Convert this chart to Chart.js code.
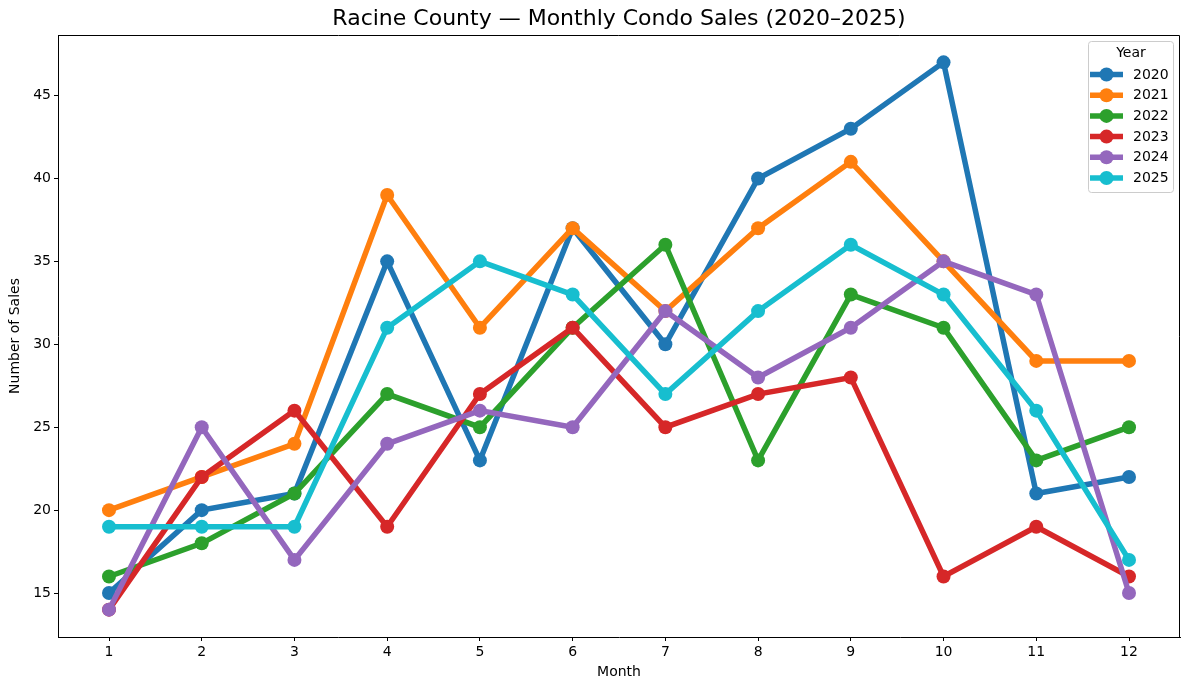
<!DOCTYPE html>
<html>
<head>
<meta charset="utf-8">
<script src="https://cdn.jsdelivr.net/npm/chart.js@4/dist/chart.umd.min.js"></script>
<style>
  html, body { margin: 0; padding: 0; background: #fff; }
  #wrap { width: 1189px; height: 690px; position: relative; }
</style>
</head>
<body>
<div id="wrap"><canvas id="chart"></canvas></div>
<script>
const months = [1, 2, 3, 4, 5, 6, 7, 8, 9, 10, 11, 12];
const years = ["2020", "2021", "2022", "2023", "2024", "2025"];
const colors = ["#1f77b4", "#ff7f0e", "#2ca02c", "#d62728", "#9467bd", "#17becf"];

const sales2020 = [15, 20, 21, 35, 23, 37, 30, 40, 43, 47, 21, 22];
const sales2021 = [20, 22, 24, 39, 31, 37, 32, 37, 41, 35, 29, 29];
const sales2022 = [16, 18, 21, 27, 25, 31, 36, 23, 33, 31, 23, 25];
const sales2023 = [14, 22, 26, 19, 27, 31, 25, 27, 28, 16, 19, 16];
const sales2024 = [14, 25, 17, 24, 26, 25, 32, 28, 31, 35, 33, 15];
const sales2025 = [19, 19, 19, 31, 35, 33, 27, 32, 36, 33, 26, 17];

const yTicks = [15, 20, 25, 30, 35, 40, 45];

const allSales = [sales2020, sales2021, sales2022, sales2023, sales2024, sales2025];
const FONT = "'DejaVu Sans', sans-serif";
const LINE_W = 5.5;

const datasets = allSales.map((vals, i) => ({
    label: years[i],
    data: vals.map((v, j) => ({ x: months[j], y: v })),
    borderColor: colors[i],
    backgroundColor: colors[i],
    borderWidth: LINE_W,
    pointRadius: 7,
    pointBorderWidth: 0,
    pointHoverRadius: 7,
    tension: 0,
    order: years.length - i  // later years drawn on top
}));

// top/right spines, title and legend drawn on the canvas
const extras = {
    id: "extras",
    afterDraw(chart) {
        const ctx = chart.ctx;
        const a = chart.chartArea;
        ctx.save();
        ctx.strokeStyle = "#000";
        ctx.lineWidth = 1;
        ctx.beginPath();
        ctx.moveTo(a.left, a.top + 0.5);
        ctx.lineTo(a.right - 0.5, a.top + 0.5);
        ctx.lineTo(a.right - 0.5, a.bottom);
        ctx.stroke();

        // title
        ctx.fillStyle = "#000";
        ctx.font = "22px " + FONT;
        ctx.textAlign = "center";
        ctx.textBaseline = "middle";
        ctx.fillText("Racine County \u2014 Monthly Condo Sales (2020\u20132025)", (a.left + a.right) / 2, 19);

        // legend
        const bx = 1088, by = 41, bw = 85, bh = 151;
        ctx.beginPath();
        ctx.roundRect(bx + 0.5, by + 0.5, bw, bh, 3);
        ctx.fillStyle = "rgba(255,255,255,0.8)";
        ctx.fill();
        ctx.strokeStyle = "#cccccc";
        ctx.stroke();

        ctx.fillStyle = "#000";
        ctx.font = "14px " + FONT;
        ctx.textAlign = "center";
        ctx.fillText("Year", bx + bw / 2 + 0.5, 53);

        ctx.textAlign = "left";
        years.forEach((y, i) => {
            const cy = 74.5 + i * 20.7;
            ctx.strokeStyle = colors[i];
            ctx.lineWidth = LINE_W;
            ctx.beginPath();
            ctx.moveTo(1090, cy);
            ctx.lineTo(1123, cy);
            ctx.stroke();
            ctx.fillStyle = colors[i];
            ctx.beginPath();
            ctx.arc(1106.5, cy, 7, 0, Math.PI * 2);
            ctx.fill();
            ctx.fillStyle = "#000";
            ctx.fillText(y, 1133, cy + 0.5);
        });
        ctx.restore();
    }
};

new Chart(document.getElementById("chart"), {
    type: "line",
    data: { datasets: datasets },
    options: {
        responsive: true,
        maintainAspectRatio: false,
        animation: false,
        layout: { padding: { left: 0, right: 9, top: 35, bottom: 0 } },
        plugins: {
            legend: { display: false },
            tooltip: { enabled: false },
            title: { display: false }
        },
        scales: {
            x: {
                type: "linear",
                min: 0.45,
                max: 12.55,
                afterFit: (s) => { s.height = 53; },
                afterBuildTicks: (s) => { s.ticks = months.map(m => ({ value: m })); },
                grid: { drawOnChartArea: false, drawTicks: true, tickLength: 4, color: "#000" },
                border: { display: true, color: "#000", width: 1 },
                ticks: { color: "#000", padding: 3, font: { family: FONT, size: 14 }, maxRotation: 0, autoSkip: false },
                title: { display: true, text: "Month", color: "#000", font: { family: FONT, size: 14 }, padding: { top: 0, bottom: 9 } }
            },
            y: {
                type: "linear",
                min: 12.35,
                max: 48.65,
                afterFit: (s) => { s.width = 58; },
                afterBuildTicks: (s) => { s.ticks = yTicks.map(v => ({ value: v })); },
                grid: { drawOnChartArea: false, drawTicks: true, tickLength: 4, color: "#000" },
                border: { display: true, color: "#000", width: 1 },
                ticks: { color: "#000", padding: 3, font: { family: FONT, size: 14 }, autoSkip: false },
                title: { display: true, text: "Number of Sales", color: "#000", font: { family: FONT, size: 14 }, padding: { top: 7, bottom: 0 } }
            }
        }
    },
    plugins: [extras]
});
</script>
</body>
</html>
